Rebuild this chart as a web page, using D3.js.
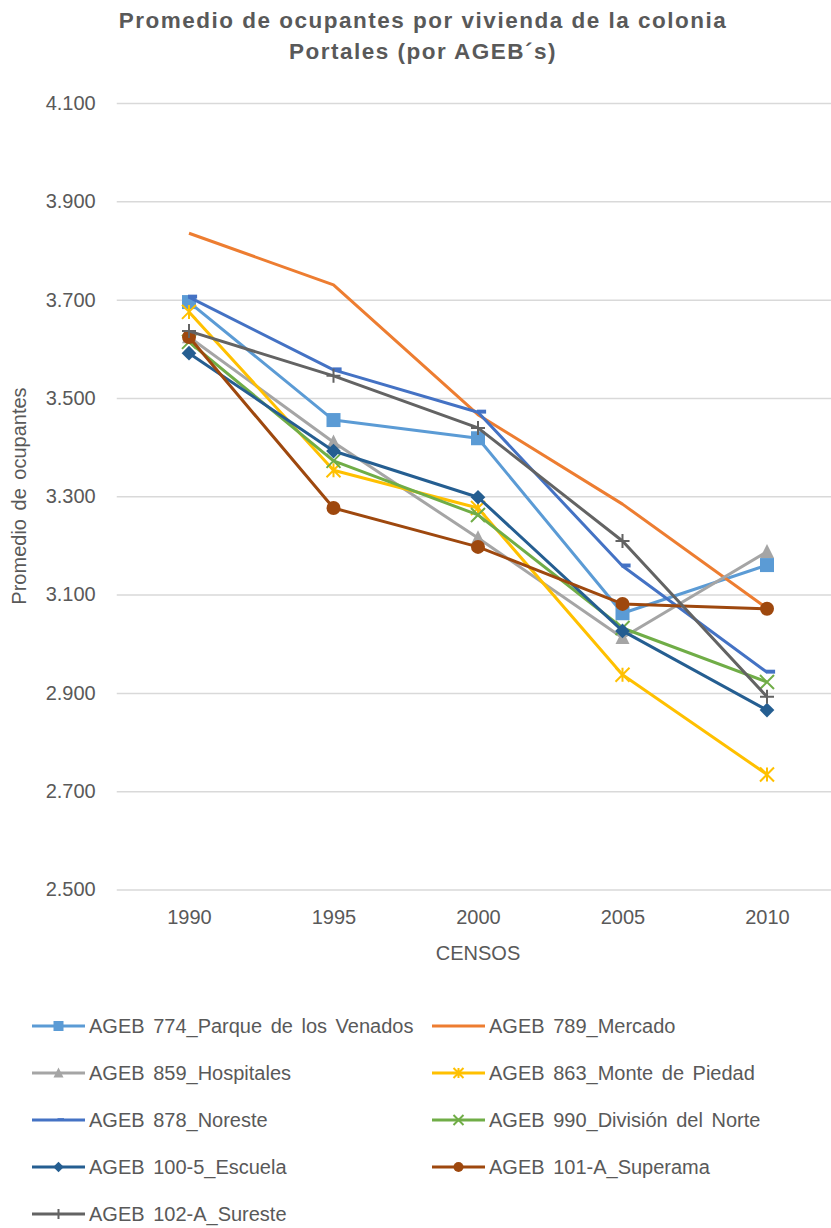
<!DOCTYPE html>
<html>
<head>
<meta charset="utf-8">
<script src="https://cdn.jsdelivr.net/npm/d3@7/dist/d3.min.js"></script>
<style>
  html, body { margin: 0; padding: 0; background: #fff; }
  svg { display: block; font-family: "Liberation Sans", Arial, Helvetica, sans-serif; }
</style>
</head>
<body>
<svg id="chart" width="831" height="1228"></svg>
<script>
// ---- data ----
const years = ["1990", "1995", "2000", "2005", "2010"];
const yTickValues = [2.5, 2.7, 2.9, 3.1, 3.3, 3.5, 3.7, 3.9, 4.1];

const seriesNames = [
  "AGEB 774_Parque de los Venados",
  "AGEB 789_Mercado",
  "AGEB 859_Hospitales",
  "AGEB 863_Monte de Piedad",
  "AGEB 878_Noreste",
  "AGEB 990_División del Norte",
  "AGEB 100-5_Escuela",
  "AGEB 101-A_Superama",
  "AGEB 102-A_Sureste"
];
const s774  = [3.695, 3.455, 3.418, 3.062, 3.160];
const s789  = [3.835, 3.730, 3.466, 3.284, 3.072];
const s859  = [3.624, 3.410, 3.215, 3.012, 3.187];
const s863  = [3.675, 3.353, 3.276, 2.937, 2.734];
const s878  = [3.705, 3.557, 3.471, 3.158, 2.942];
const s990  = [3.614, 3.372, 3.262, 3.032, 2.922];
const s1005 = [3.591, 3.392, 3.298, 3.026, 2.865];
const s101A = [3.624, 3.276, 3.197, 3.081, 3.071];
const s102A = [3.636, 3.545, 3.439, 3.209, 2.892];
const seriesValues = [s774, s789, s859, s863, s878, s990, s1005, s101A, s102A];
const seriesColors = ["#5B9BD5", "#ED7D31", "#A5A5A5", "#FFC000", "#4472C4", "#70AD47", "#255E91", "#9E480E", "#636363"];
const seriesMarkers = ["square", "none", "triangle", "asterisk", "dash", "x", "diamond", "circle", "plus"];

// ---- layout ----
const svg = d3.select("#chart");
const textColor = "#595959";
const plotLeft = 116.75, plotRight = 839.25, plotTop = 103, plotBottom = 889.5;

const x = d3.scalePoint().domain(years).range([plotLeft, plotRight]).padding(0.5);
const y = d3.scaleLinear().domain([2.5, 4.1]).range([plotBottom, plotTop]);

// title
const title = svg.append("text").attr("text-anchor", "middle").attr("fill", textColor)
  .style("font-size", "22.5px").style("font-weight", "bold").style("letter-spacing", "1.5px");
title.append("tspan").attr("x", 423).attr("y", 28).text("Promedio de ocupantes por vivienda de la colonia");
title.append("tspan").attr("x", 423).attr("y", 59).text("Portales (por AGEB´s)");

// gridlines + y axis
const yAxis = d3.axisLeft(y).tickValues(yTickValues).tickFormat(d3.format(".3f"))
  .tickSize(-(plotRight - plotLeft)).tickPadding(21);
const gy = svg.append("g").attr("transform", `translate(${plotLeft},0)`).call(yAxis);
gy.select(".domain").remove();
gy.selectAll(".tick line").attr("stroke", "#D9D9D9").attr("stroke-width", 1.5);
gy.selectAll(".tick text").attr("fill", textColor).style("font-size", "20px").attr("font-family", null);

// x axis labels
const xAxis = d3.axisBottom(x).tickSize(0).tickPadding(20);
const gx = svg.append("g").attr("transform", `translate(0,${plotBottom})`).call(xAxis);
gx.select(".domain").remove();
gx.selectAll(".tick text").attr("fill", textColor).style("font-size", "20px").attr("font-family", null);

// axis titles
svg.append("text").attr("x", 478).attr("y", 960).attr("text-anchor", "middle")
  .attr("fill", textColor).style("font-size", "20px").text("CENSOS");
svg.append("text").attr("transform", "translate(26,496) rotate(-90)").attr("text-anchor", "middle")
  .attr("fill", textColor).style("font-size", "20px").style("word-spacing", "3px").text("Promedio de ocupantes");

// markers
function drawMarker(g, type, color, s) {
  const h = s / 2;
  switch (type) {
    case "square":
      g.append("rect").attr("x", -h).attr("y", -h).attr("width", s).attr("height", s).attr("fill", color);
      break;
    case "triangle":
      g.append("path").attr("d", `M0,${-h * 1.1}L${h},${h * 0.9}L${-h},${h * 0.9}Z`).attr("fill", color);
      break;
    case "diamond":
      g.append("path").attr("d", `M0,${-h * 1.05}L${h * 1.05},0L0,${h * 1.05}L${-h * 1.05},0Z`).attr("fill", color);
      break;
    case "circle":
      g.append("circle").attr("r", h).attr("fill", color);
      break;
    case "asterisk":
      g.append("path").attr("d", `M${-h},${-h}L${h},${h}M${-h},${h}L${h},${-h}M0,${-h}L0,${h}`)
        .attr("stroke", color).attr("stroke-width", 2).attr("fill", "none");
      break;
    case "x":
      g.append("path").attr("d", `M${-h},${-h}L${h},${h}M${-h},${h}L${h},${-h}`)
        .attr("stroke", color).attr("stroke-width", 2).attr("fill", "none");
      break;
    case "plus":
      g.append("path").attr("d", `M${-h},0L${h},0M0,${-h}L0,${h}`)
        .attr("stroke", color).attr("stroke-width", 2).attr("fill", "none");
      break;
    case "dash":
      g.append("rect").attr("x", -1).attr("y", -s * 0.18).attr("width", s * 0.65).attr("height", s * 0.28).attr("fill", color);
      break;
  }
}

const line = d3.line().x((d, i) => x(years[i])).y(d => y(d));
const plot = svg.append("g");
seriesValues.forEach((vals, si) => {
  const g = plot.append("g");
  g.append("path").datum(vals).attr("d", line).attr("fill", "none")
    .attr("stroke", seriesColors[si]).attr("stroke-width", 3).attr("stroke-linejoin", "round");
  if (seriesMarkers[si] !== "none") {
    vals.forEach((v, i) => {
      const mg = g.append("g").attr("transform", `translate(${x(years[i])},${y(v)})`);
      drawMarker(mg, seriesMarkers[si], seriesColors[si], 14);
    });
  }
});

// legend
const legendY0 = 1026, legendDy = 47;
const legendColX = [32, 432];
seriesNames.forEach((name, si) => {
  const col = si % 2, row = Math.floor(si / 2);
  const lx = legendColX[col], ly = legendY0 + row * legendDy;
  const g = svg.append("g").attr("transform", `translate(${lx},${ly})`);
  g.append("line").attr("x1", 0).attr("x2", 53).attr("y1", 0).attr("y2", 0)
    .attr("stroke", seriesColors[si]).attr("stroke-width", 3);
  if (seriesMarkers[si] !== "none") {
    const mg = g.append("g").attr("transform", "translate(26.5,0)");
    drawMarker(mg, seriesMarkers[si], seriesColors[si], 10);
  }
  g.append("text").attr("x", 57).attr("y", 7).attr("fill", textColor)
    .style("font-size", "20px").style("word-spacing", "3px").text(name);
});
</script>
</body>
</html>
